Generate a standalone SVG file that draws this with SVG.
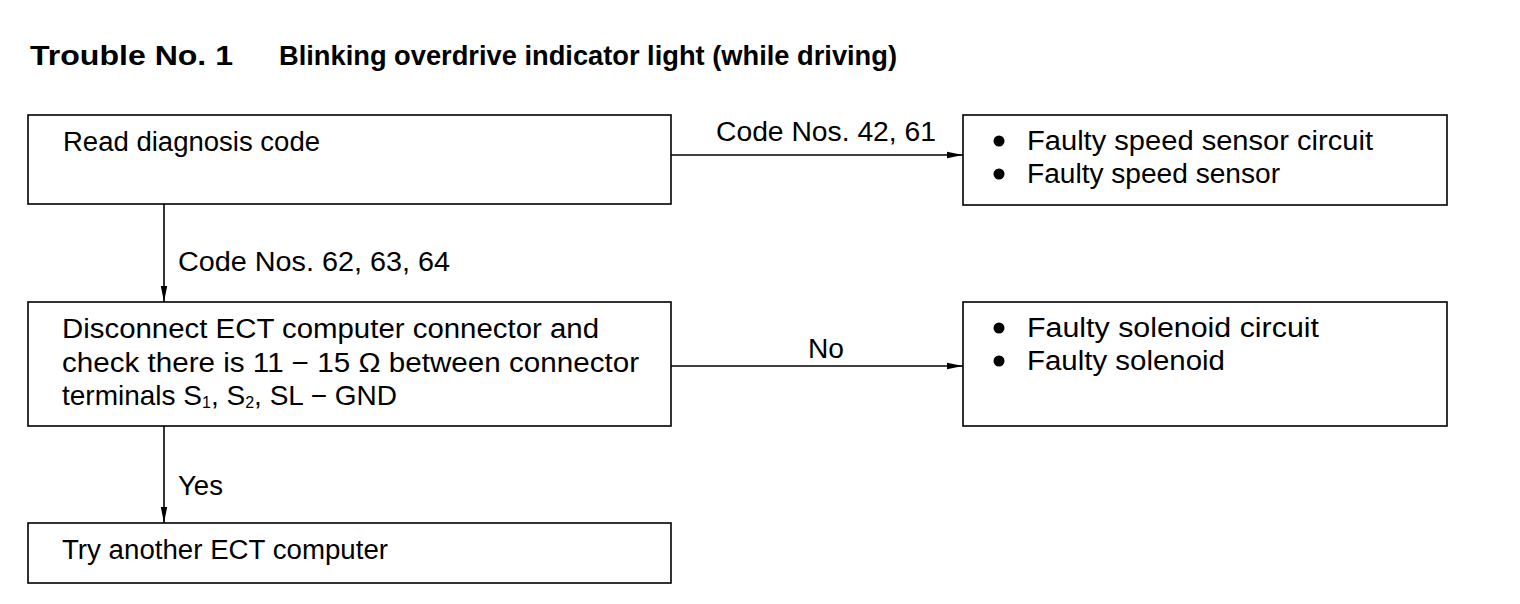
<svg xmlns="http://www.w3.org/2000/svg" width="1520" height="604" viewBox="0 0 1520 604">
<style>
.bg{fill:#fff}
.box{fill:#fff;stroke:#000;stroke-width:1.6}
.t{font-family:"Liberation Sans",Arial,sans-serif;font-size:27px;fill:#000}
.title{font-family:"Liberation Sans",Arial,sans-serif;font-size:28px;font-weight:bold;fill:#000}
.sub{font-size:16px}
.edge{fill:none;stroke:#000;stroke-width:1.6}
.dot{fill:#000}
</style>
<defs>
<marker id="ah" viewBox="0 0 16 8" refX="16" refY="4" markerWidth="16" markerHeight="8" markerUnits="userSpaceOnUse" orient="auto">
<path d="M0,0.8 L16,4 L0,7.2 Z" fill="#000"/>
</marker>
</defs>
<rect class="bg" x="0" y="0" width="1520" height="604"/>
<g id="title">
<text class="title" x="30" y="65" textLength="203" lengthAdjust="spacingAndGlyphs">Trouble No. 1</text>
<text class="title" x="279" y="65" textLength="618" lengthAdjust="spacingAndGlyphs">Blinking overdrive indicator light (while driving)</text>
</g>
<g id="connectors">
<line class="edge" x1="671" y1="155" x2="963" y2="155" marker-end="url(#ah)"/>
<text class="t" x="716" y="141" textLength="220" lengthAdjust="spacingAndGlyphs">Code Nos. 42, 61</text>
<line class="edge" x1="164" y1="204" x2="164" y2="302" marker-end="url(#ah)"/>
<text class="t" x="178" y="271" textLength="272" lengthAdjust="spacingAndGlyphs">Code Nos. 62, 63, 64</text>
<line class="edge" x1="671" y1="366" x2="963" y2="366" marker-end="url(#ah)"/>
<text class="t" x="808" y="358" textLength="36" lengthAdjust="spacingAndGlyphs">No</text>
<line class="edge" x1="164" y1="426" x2="164" y2="523" marker-end="url(#ah)"/>
<text class="t" x="178" y="495" textLength="45" lengthAdjust="spacingAndGlyphs">Yes</text>
</g>
<g id="node-read">
<rect class="box" x="28" y="115" width="643" height="89"/>
<text class="t" x="63" y="151" textLength="257" lengthAdjust="spacingAndGlyphs">Read diagnosis code</text>
</g>
<g id="node-speed">
<rect class="box" x="963" y="115" width="484" height="90"/>
<circle class="dot" cx="999" cy="141" r="5.5"/>
<text class="t" x="1027" y="150" textLength="346" lengthAdjust="spacingAndGlyphs">Faulty speed sensor circuit</text>
<circle class="dot" cx="999" cy="174" r="5.5"/>
<text class="t" x="1027" y="183" textLength="253" lengthAdjust="spacingAndGlyphs">Faulty speed sensor</text>
</g>
<g id="node-check">
<rect class="box" x="28" y="302" width="643" height="124"/>
<text class="t" x="62" y="338" textLength="537" lengthAdjust="spacingAndGlyphs">Disconnect ECT computer connector and</text>
<text class="t" x="62" y="372" textLength="577" lengthAdjust="spacingAndGlyphs">check there is 11 − 15 Ω between connector</text>
<text class="t" x="62" y="405" style="font-size:28px">terminals S<tspan class="sub" dy="3">1</tspan><tspan dy="-3">, S</tspan><tspan class="sub" dy="3">2</tspan><tspan dy="-3">, SL − GND</tspan></text>
</g>
<g id="node-solenoid">
<rect class="box" x="963" y="302" width="484" height="124"/>
<circle class="dot" cx="999" cy="328" r="5.5"/>
<text class="t" x="1027" y="337" textLength="292" lengthAdjust="spacingAndGlyphs">Faulty solenoid circuit</text>
<circle class="dot" cx="999" cy="361" r="5.5"/>
<text class="t" x="1027" y="370" textLength="198" lengthAdjust="spacingAndGlyphs">Faulty solenoid</text>
</g>
<g id="node-try">
<rect class="box" x="28" y="523" width="643" height="60"/>
<text class="t" x="62" y="559" textLength="326" lengthAdjust="spacingAndGlyphs">Try another ECT computer</text>
</g>
</svg>
